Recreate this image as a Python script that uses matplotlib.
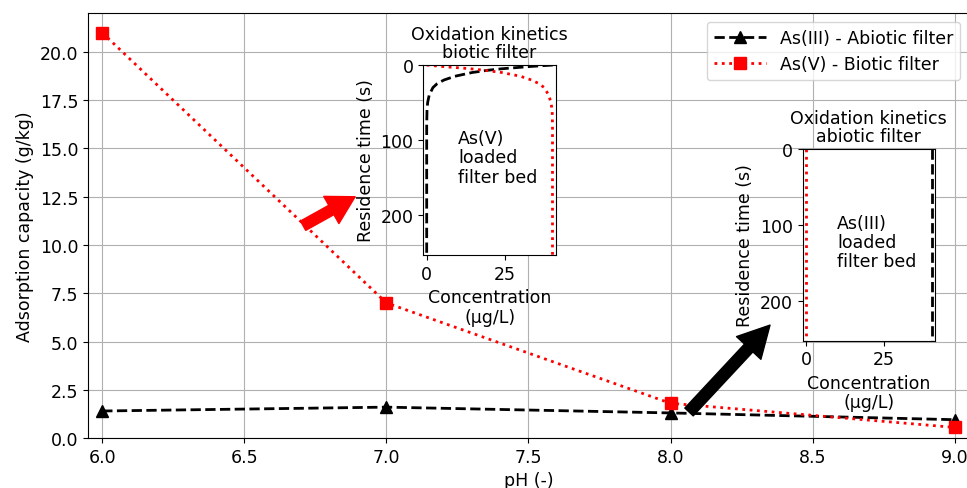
import matplotlib
matplotlib.use("Agg")
import matplotlib.pyplot as plt
import numpy as np

plt.rcParams['font.size'] = 12.5

# main chart: adsorption capacity vs pH
ph = [6.0, 7.0, 8.0, 9.0]
as3_abiotic = [1.4, 1.6, 1.3, 0.95]
as5_biotic = [21.0, 7.0, 1.8, 0.55]

# inset 1: oxidation kinetics, biotic filter
bio_time = [0, 2, 5, 7, 10, 15, 20, 25, 30, 40, 50, 60, 80, 253]
bio_as3 = [40.3, 33, 24, 19.5, 14.5, 9, 5.5, 3.3, 2.0, 0.8, 0.3, 0.1, 0.0, 0.0]
bio_as5 = [0.0, 5, 14, 18.5, 24, 30, 33.5, 36, 37.5, 39, 39.7, 40.1, 40.2, 40.2]

# inset 2: oxidation kinetics, abiotic filter
abio_time = [0, 253]
abio_as3 = [40.2, 40.2]
abio_as5 = [0.0, 0.0]

fig = plt.figure(figsize=(9.67, 4.89), dpi=100)
ax = fig.add_axes([0.091, 0.1022, 0.911, 0.8692])

ax.plot(ph, as3_abiotic, 'k--^', lw=2, ms=8, label='As(III) - Abiotic filter')
ax.plot(ph, as5_biotic, 'r:s', lw=2, ms=8, label='As(V) - Biotic filter')
ax.set_xlim(5.95, 9.05)
ax.set_ylim(0, 22.02)
ax.set_xlabel('pH (-)')
ax.set_ylabel('Adsorption capacity (g/kg)')
ax.grid(True)
ax.legend(loc='upper right', handlelength=3)

# arrows pointing to the insets
ax.annotate('', xy=(6.89, 12.5), xytext=(6.707, 11.0),
            arrowprops=dict(arrowstyle='simple,head_length=1.4,head_width=1.6,tail_width=0.55',
                            mutation_scale=14, color='red', shrinkA=0, shrinkB=0))
ax.annotate('', xy=(8.35, 5.85), xytext=(8.065, 1.35),
            arrowprops=dict(arrowstyle='simple,head_length=1.5,head_width=1.6,tail_width=0.55',
                            mutation_scale=15, color='black', shrinkA=0, shrinkB=0))

# inset biotic
ax1 = fig.add_axes([0.4377, 0.4765, 0.1372, 0.3885])
ax1.plot(bio_as3, bio_time, 'k--', lw=2)
ax1.plot(bio_as5, bio_time, 'r:', lw=2)
ax1.set_xlim(-1.1, 41.3)
ax1.set_ylim(253, 0)
ax1.set_xticks([0, 25])
ax1.set_yticks([0, 100, 200])
ax1.set_title('Oxidation kinetics\nbiotic filter', fontsize=12.5, linespacing=1.0)
ax1.set_xlabel('Concentration\n(\u00b5g/L)', linespacing=1.1)
ax1.set_ylabel('Residence time (s)')
ax1.text(10, 85, 'As(V)\nloaded\nfilter bed', va='top', ha='left', linespacing=1.1)

# inset abiotic
ax2 = fig.add_axes([0.830, 0.3012, 0.1368, 0.392])
ax2.plot(abio_as3, abio_time, 'k--', lw=2)
ax2.plot(abio_as5, abio_time, 'r:', lw=2)
ax2.set_xlim(-1.05, 41.2)
ax2.set_ylim(252, 0)
ax2.set_xticks([0, 25])
ax2.set_yticks([0, 100, 200])
ax2.set_title('Oxidation kinetics\nabiotic filter', fontsize=12.5, linespacing=1.0)
ax2.set_xlabel('Concentration\n(\u00b5g/L)', linespacing=1.1)
ax2.set_ylabel('Residence time (s)')
ax2.text(10, 85, 'As(III)\nloaded\nfilter bed', va='top', ha='left', linespacing=1.1)

fig.savefig('out.png', dpi=100)
